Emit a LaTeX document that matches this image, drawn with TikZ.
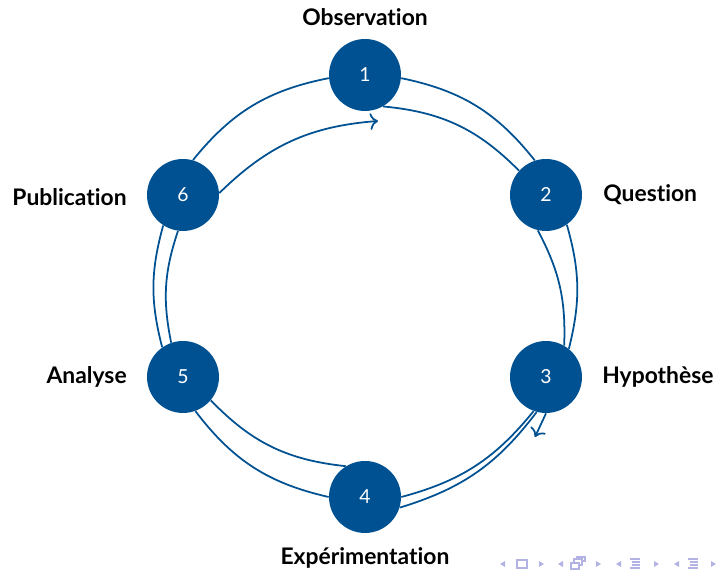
\documentclass[tikz,border=0pt]{standalone}
\usepackage{fontspec}
\setmainfont{Lato}[Ligatures=NoCommon]
\usepackage{tikz}
\usetikzlibrary{arrows.meta,positioning}
\definecolor{cycleblue}{RGB}{0,81,145}
\definecolor{navcol}{RGB}{178,178,228}

\tikzset{
  stepnode/.style={circle, fill=cycleblue, text=white, minimum size=1.44cm,
    inner sep=0pt, font=\fontsize{11}{13}\selectfont},
  lbl/.style={font=\fontsize{13}{15}\selectfont\bfseries, inner sep=0pt},
  link/.style={draw=cycleblue, line width=1pt},
  navtri/.style={fill=navcol},
}

\begin{document}
\begin{tikzpicture}[x=0.02cm,y=0.02cm]
    \useasboundingbox (0,0) rectangle (717,570);
    % the six steps of the cycle
    \node[stepnode] (n1) at (365,495) {1};
    \node[stepnode] (n2) at (546,375) {2};
    \node[stepnode] (n3) at (546,193) {3};
    \node[stepnode] (n4) at (365,73) {4};
    \node[stepnode] (n5) at (183,193) {5};
    \node[stepnode] (n6) at (183,375) {6};
    \coordinate (a1) at (378,449);
    \coordinate (a3) at (535,133);
    % labels
    \node[lbl] (l1) at (365,553) {Observation};
    \node[lbl, anchor=west] (l2) at (603,375) {Question};
    \node[lbl, anchor=west] (l3) at (602,193) {Hypothèse};
    \node[lbl] (l4) at (365,12) {Expérimentation};
    \node[lbl, anchor=east] (l6) at (127,373) {Publication};
    \node[lbl, anchor=east] (l5) at (127,193) {Analyse};
    % double ring of links
    \draw[link] (n1.-5) to[bend left=20] (n2.108);
    \draw[link] (n1.-60) to[bend left=20] (n2.138);
    \draw[link] (n2.-103) to[bend left=15] (n3.60);
    \draw[link] (n2.-55) to[bend left=15] (n3.51);
    \draw[link] (n3.-110) to[bend left=18] (n4.0);
    \draw[link] (n3.-105) to[bend left=18] (n4.-17);
    \draw[link,-{To[scale=1.2]}] (n3.-90) -- (a3);
    \draw[link] (n4.122) to[bend left=20] (n5.-40);
    \draw[link] (n4.180) to[bend left=20] (n5.-70);
    \draw[link] (n5.125) to[bend left=15] (n6.-123);
    \draw[link] (n5.109) to[bend left=15] (n6.-98);
    \draw[link] (n6.74) to[bend left=20] (n1.185);
    \draw[link,-{To[scale=1.2]}] (n6.3) to[bend left=20] (a1);
    % navigation symbols
    \foreach \x in {503,561,619,677} {
      \fill[navtri] (\x+2,3) -- (\x+2,9) -- (\x-3,6) -- cycle;
    }
    \foreach \x in {541,598,656,713} {
      \fill[navtri] (\x-2,3) -- (\x-2,9) -- (\x+3,6) -- cycle;
    }
    \draw[navcol, line width=0.6pt] (517,2) rectangle (527,10);
    \draw[navcol, line width=0.6pt, fill=white] (577,9) rectangle (585,13);
    \draw[navcol, line width=0.6pt, fill=white] (574,5) rectangle (582,11);
    \draw[navcol, line width=0.6pt, fill=white] (571,1) rectangle (579,7);
    \foreach \x in {635,693} {
      \draw[navcol, line width=0.6pt] (\x-5,11) -- (\x+5,11);
      \draw[navcol, line width=0.6pt] (\x-3,8) -- (\x+5,8);
      \draw[navcol, line width=0.6pt] (\x-3,5) -- (\x+5,5);
      \draw[navcol, line width=0.6pt] (\x-5,2) -- (\x+5,2);
    }
\end{tikzpicture}
\end{document}
